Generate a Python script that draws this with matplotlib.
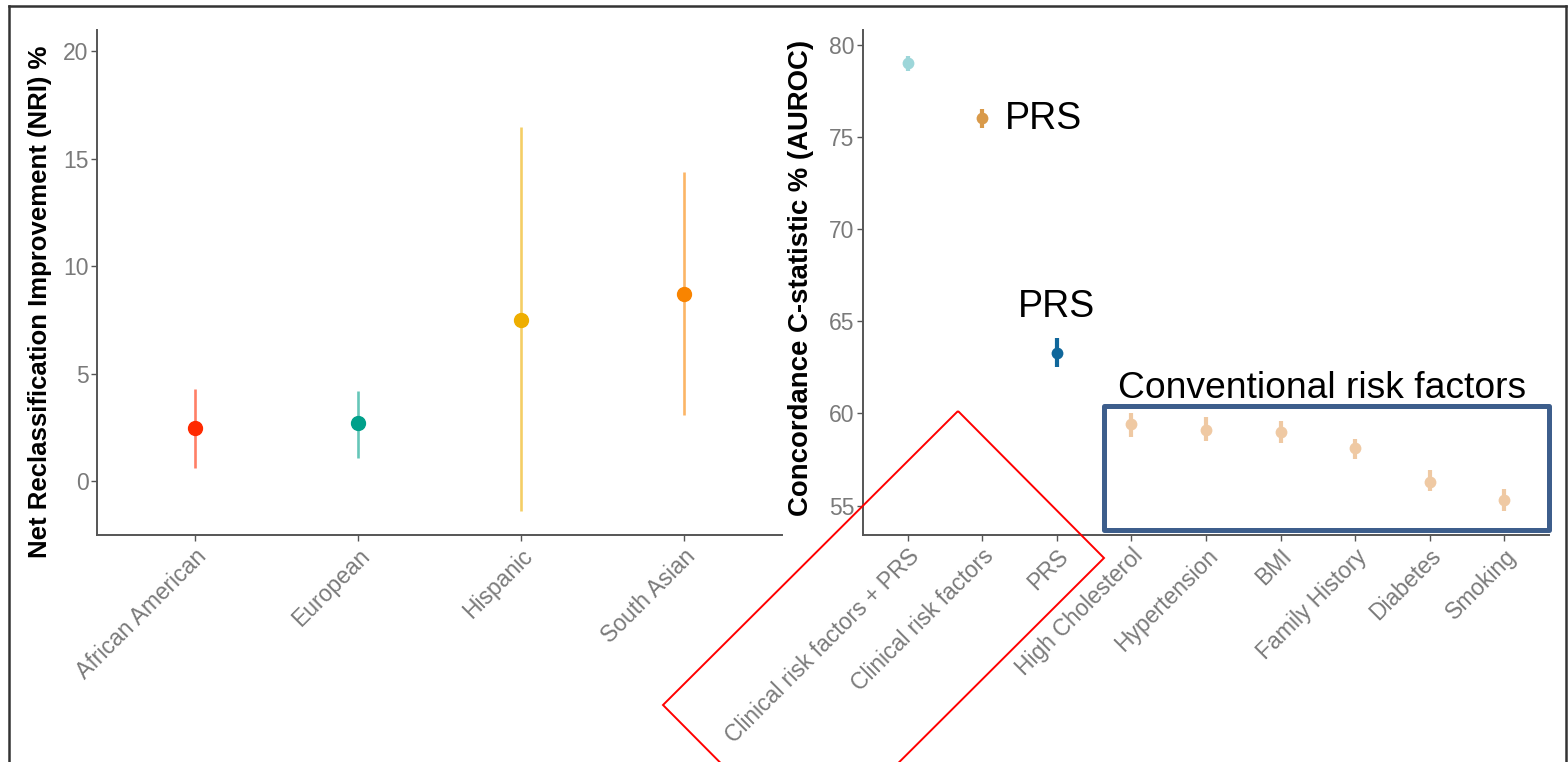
import matplotlib
matplotlib.use("Agg")
import matplotlib.pyplot as plt
from matplotlib.patches import Polygon, Rectangle
from matplotlib.lines import Line2D

plt.rcParams['font.family'] = ['Liberation Sans', 'DejaVu Sans']

# Net reclassification improvement by ancestry
ancestries = ["African American", "European", "Hispanic", "South Asian"]
nri = [2.5, 2.7, 7.5, 8.7]
nri_low = [0.6, 1.1, -1.4, 3.1]
nri_high = [4.3, 4.2, 16.5, 14.4]
nri_colors = ["#FF2A00", "#00A08A", "#EEAE00", "#F98400"]

# Concordance statistic by model / risk factor
models = ["Clinical risk factors + PRS", "Clinical risk factors", "PRS",
          "High Cholesterol", "Hypertension", "BMI", "Family History",
          "Diabetes", "Smoking"]
auroc = [79.0, 76.0, 63.3, 59.4, 59.1, 59.0, 58.1, 56.3, 55.3]
auroc_low = [78.6, 75.5, 62.5, 58.7, 58.5, 58.4, 57.5, 55.8, 54.7]
auroc_high = [79.4, 76.5, 64.1, 60.0, 59.8, 59.6, 58.6, 56.9, 55.9]
auroc_colors = ["#9DD6D9", "#D99A4A", "#10679B",
                "#EFC9A3", "#EFC9A3", "#EFC9A3", "#EFC9A3", "#EFC9A3", "#EFC9A3"]

nri_ticks = [0, 5, 10, 15, 20]
auroc_ticks = [55, 60, 65, 70, 75, 80]

W, H = 1568, 762
fig = plt.figure(figsize=(W / 100, H / 100), dpi=100)


def px_axes(x0, y0, x1, y1):
    return fig.add_axes([x0 / W, 1 - y1 / H, (x1 - x0) / W, (y1 - y0) / H])


def style(ax):
    for s in ("top", "right"):
        ax.spines[s].set_visible(False)
    for s in ("left", "bottom"):
        ax.spines[s].set_color("#555555")
        ax.spines[s].set_linewidth(1.4)
    ax.tick_params(axis="both", colors="#555555", length=4, width=1.0,
                   labelcolor="#7A7A7A")
    ax.tick_params(axis="y", pad=2, labelsize=16.5)
    ax.tick_params(axis="x", pad=3, labelsize=16.5)
    plt.setp(ax.get_xticklabels(), rotation=45, ha="right",
             rotation_mode="anchor")


# Left panel: NRI
ax1 = px_axes(97, 30, 782, 535)
for i, cat in enumerate(ancestries):
    ax1.plot([cat, cat], [nri_low[i], nri_high[i]], color=nri_colors[i],
             lw=1.9, alpha=0.6, solid_capstyle="butt", zorder=2)
    ax1.plot([cat], [nri[i]], "o", color=nri_colors[i], ms=10, zorder=3)
ax1.set_xlim(-0.6, len(ancestries) - 0.4)
ax1.set_ylim(-2.5, 21.0)
ax1.set_yticks(nri_ticks)
style(ax1)

# Right panel: AUROC
ax2 = px_axes(863, 30, 1549, 535)
for i, cat in enumerate(models):
    ax2.plot([cat, cat], [auroc_low[i], auroc_high[i]], color=auroc_colors[i],
             lw=3.0, solid_capstyle="butt", zorder=2)
    ax2.plot([cat], [auroc[i]], "o", color=auroc_colors[i], ms=8.5,
             markeredgewidth=0, zorder=3)
ax2.set_xlim(-0.6, len(models) - 0.4)
ax2.set_ylim(53.4, 80.8)
ax2.set_yticks(auroc_ticks)
style(ax2)

# Axis titles
fig.text(40 / W, 1 - 302 / H, "Net Reclassification Improvement (NRI) %",
         rotation=90, ha="center", va="center", fontsize=18.5,
         fontweight="bold", color="black")
fig.text(801 / W, 1 - 278 / H, "Concordance C-statistic % (AUROC)",
         rotation=90, ha="center", va="center", fontsize=19.8,
         fontweight="bold", color="black")

# Annotations
fig.text(1005 / W, 1 - 119 / H, "PRS", ha="left", va="center",
         fontsize=27, color="black")
fig.text(1018 / W, 1 - 307 / H, "PRS", ha="left", va="center",
         fontsize=27, color="black")
fig.text(1118 / W, 1 - 388 / H, "Conventional risk factors", ha="left",
         va="center", fontsize=26.8, color="black")

# Blue box around conventional risk factors
fig.patches.append(Rectangle((1104 / W, 1 - 530 / H), (1549 - 1104) / W,
                             (530 - 406) / H, transform=fig.transFigure,
                             fill=False, edgecolor="#3D5E8C", lw=3.6,
                             joinstyle="round", zorder=5))

# Red tilted box around the clinical/PRS models
diamond = [(958, 411), (1104, 558), (809, 852), (663, 705)]
fig.patches.append(Polygon([(x / W, 1 - y / H) for x, y in diamond],
                           closed=True, transform=fig.transFigure,
                           fill=False, edgecolor="#FF0000", lw=1.4, zorder=5))

# Outer frame
for xs, ys in [((8.5, 1566), (5.5, 5.5)), ((8.5, 8.5), (5.5, 762)),
               ((1566, 1566), (5.5, 762))]:
    fig.lines.append(Line2D([x / W for x in xs], [1 - y / H for y in ys],
                            transform=fig.transFigure, color="#333333",
                            lw=1.8))

fig.savefig("out.png", dpi=100)
